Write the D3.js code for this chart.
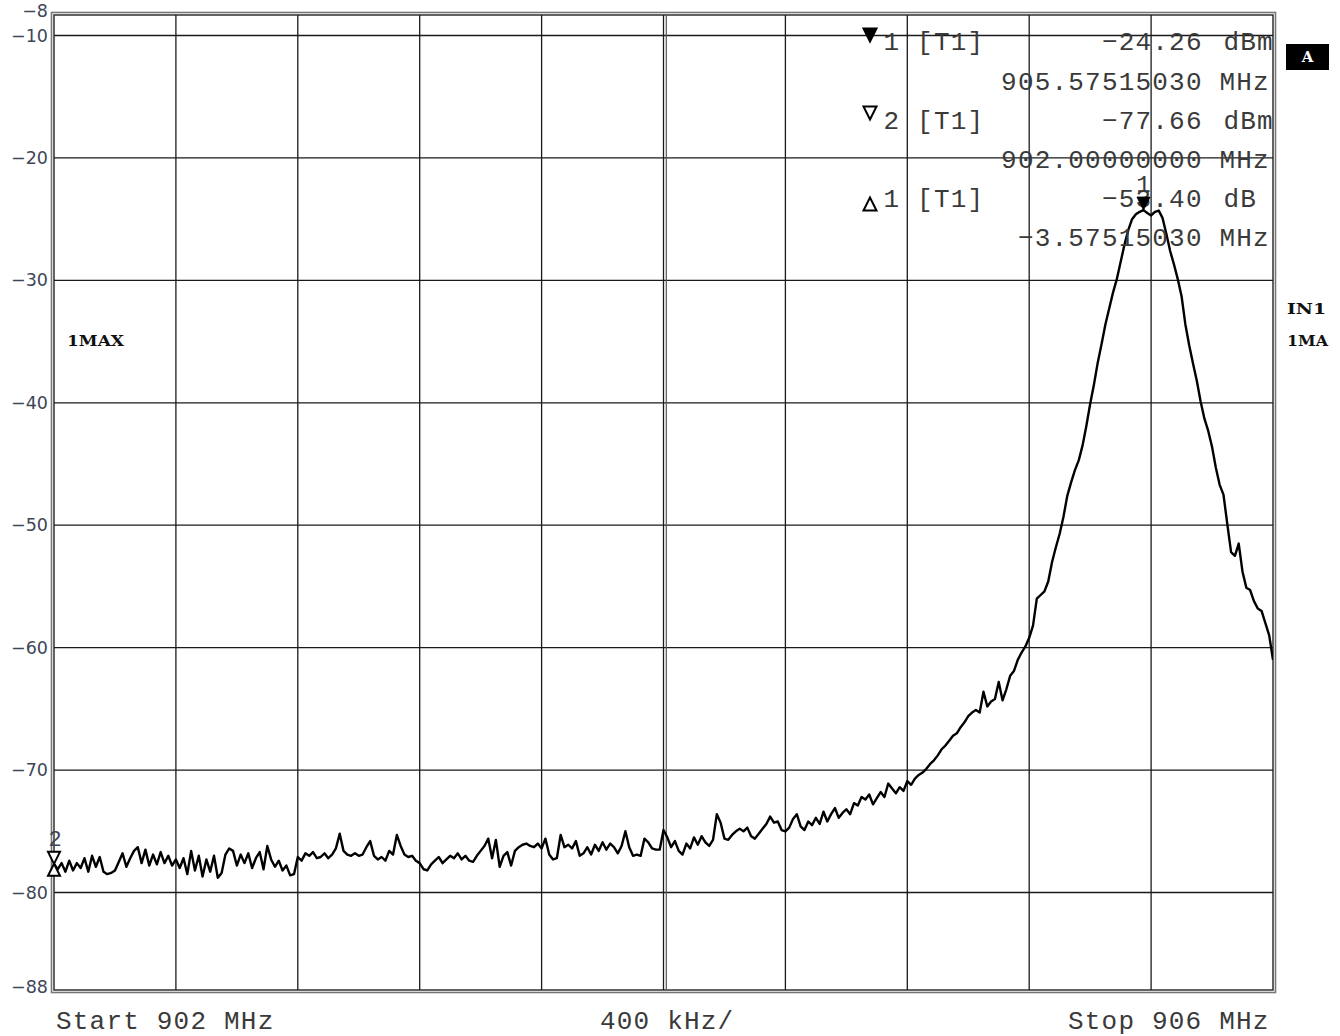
<!DOCTYPE html>
<html>
<head>
<meta charset="utf-8">
<script src="https://cdn.jsdelivr.net/npm/d3@7"></script>
<style>
  html, body { margin: 0; padding: 0; background: #fff; }
  svg { display: block; }
</style>
</head>
<body>
<svg id="chart" width="1340" height="1036"></svg>
<script>
// ---------- DATA ----------
const freqStart = 902;      // MHz
const freqStop = 906;       // MHz
const spanLabel = "400 kHz/";
const startLabel = "Start 902 MHz";
const stopLabel = "Stop 906 MHz";

const yTickValues = [-8, -10, -20, -30, -40, -50, -60, -70, -80, -88];
const yTickLabels = ["\u22128", "\u221210", "\u221220", "\u221230", "\u221240", "\u221250", "\u221260", "\u221270", "\u221280", "\u221288"];
const gridLevels = [-10, -20, -30, -40, -50, -60, -70, -80];
const gridFreqs = [902.4, 902.8, 903.2, 903.6, 904.0, 904.4, 904.8, 905.2, 905.6];

// trace 1 (max hold), 321 sweep points from 902 to 906 MHz, dBm
const levelDbm = [
  -77.66, -78.1, -77.6, -78.3, -77.4, -78.2, -77.6, -78.0, -77.2, -78.3,
  -77.0, -77.9, -77.1, -78.3, -78.5, -78.4, -78.2, -77.5, -76.8, -77.9,
  -77.2, -76.6, -76.3, -77.6, -76.5, -77.8, -76.9, -77.7, -76.7, -77.6,
  -77.0, -77.8, -77.3, -78.0, -77.2, -78.5, -76.6, -78.2, -77.0, -78.7,
  -77.3, -78.3, -77.0, -78.8, -78.4, -76.9, -76.4, -76.6, -77.8, -76.9,
  -77.6, -76.8, -78.0, -77.2, -76.7, -78.1, -76.2, -77.3, -77.9, -77.4,
  -78.2, -77.8, -78.6, -78.5, -77.1, -77.4, -76.8, -77.0, -76.7, -77.2,
  -77.1, -76.8, -77.2, -76.9, -76.4, -75.2, -76.6, -76.9, -77.0, -76.8,
  -77.0, -76.9, -76.3, -75.8, -77.0, -77.3, -77.1, -77.4, -76.6, -76.9,
  -75.3, -76.2, -76.9, -77.1, -77.0, -77.4, -77.6, -78.1, -78.2, -77.7,
  -77.4, -77.1, -77.6, -77.3, -77.0, -77.2, -76.8, -77.3, -77.0, -77.4,
  -77.5, -77.0, -76.6, -76.2, -75.6, -77.2, -75.7, -77.9, -77.0, -76.7,
  -77.8, -76.6, -76.3, -76.1, -76.0, -76.2, -76.3, -76.0, -76.4, -75.6,
  -76.9, -77.3, -77.2, -75.3, -76.3, -76.1, -76.4, -75.8, -77.0, -76.8,
  -76.3, -76.9, -76.1, -76.6, -75.9, -76.5, -76.0, -76.3, -76.8, -76.2,
  -75.0, -76.3, -77.0, -76.9, -77.0, -75.6, -75.9, -76.4, -76.5, -76.5,
  -74.9, -75.5, -76.3, -75.8, -76.6, -76.9, -76.0, -76.4, -75.5, -76.1,
  -75.4, -75.9, -76.2, -75.7, -73.6, -74.3, -75.6, -75.7, -75.3, -75.0,
  -74.8, -75.0, -74.7, -75.4, -75.6, -75.2, -74.8, -74.4, -73.8, -74.3,
  -74.2, -74.9, -75.0, -74.7, -74.0, -73.6, -74.6, -74.9, -74.2, -74.5,
  -73.9, -74.4, -73.4, -74.2, -73.6, -73.1, -73.9, -73.5, -73.2, -73.6,
  -72.7, -72.9, -72.2, -72.4, -72.0, -72.8, -72.3, -71.8, -72.2, -71.1,
  -71.5, -71.9, -71.4, -71.7, -70.9, -71.2, -70.7, -70.4, -70.2, -69.9,
  -69.5, -69.2, -68.8, -68.3, -68.0, -67.6, -67.2, -67.0, -66.5, -66.1,
  -65.6, -65.3, -65.1, -65.3, -63.6, -64.8, -64.4, -64.2, -62.8, -64.3,
  -63.4, -62.3, -61.9, -61.0, -60.4, -59.9, -59.2, -58.2, -56.0, -55.7,
  -55.4, -54.6, -53.0, -51.8, -50.7, -49.3, -47.6, -46.5, -45.5, -44.7,
  -43.5, -41.9, -40.1, -38.5, -36.7, -35.2, -33.6, -32.3, -31.0, -29.9,
  -28.5, -27.1, -25.9, -25.0, -24.6, -24.4, -24.26, -24.5, -24.7, -24.4,
  -24.3, -24.9, -26.2, -27.6, -28.7, -29.9, -31.3, -33.6, -35.3, -36.8,
  -38.2, -39.9, -41.3, -42.3, -43.6, -45.3, -46.7, -47.5, -49.9, -52.2,
  -52.5, -51.5, -53.8, -55.1, -55.3, -56.2, -56.8, -57.0, -58.0, -59.0,
  -61.0
];

// marker table
const markerSymbols = ["filledDown", "openDown", "openUp"];
const markerNumbers = ["1", "2", "1"];
const markerTraces = ["[T1]", "[T1]", "[T1]"];
const markerValues = ["\u221224.26", "\u221277.66", "\u221253.40"];
const markerValueUnits = ["dBm", "dBm", "dB"];
const markerFreqs = ["905.57515030", "902.00000000", "\u22123.57515030"];
const markerFreqUnits = ["MHz", "MHz", "MHz"];

// markers placed on the trace
const marker1Freq = 905.57515030, marker1Level = -24.26;
const marker2Freq = 902.0, marker2Level = -77.66;

// ---------- DRAW ----------
const svg = d3.select("#chart");
const L = 54, R = 1273, T = 15, B = 990;

const x = d3.scaleLinear().domain([freqStart, freqStop]).range([L, R]);
const y = d3.scaleLinear().domain([-10, -80]).range([35.5, 892.5]);
const freqs = levelDbm.map((d, i) => freqStart + (freqStop - freqStart) * i / (levelDbm.length - 1));

svg.append("defs").append("clipPath").attr("id", "plotclip")
  .append("rect").attr("x", L).attr("y", T).attr("width", R - L).attr("height", B - T);

// outer frame (grey) + inner frame (black)
svg.append("rect").attr("x", L - 2.5).attr("y", T - 2.5).attr("width", R - L + 5).attr("height", B - T + 5)
  .attr("fill", "none").attr("stroke", "#777").attr("stroke-width", 1.6);
svg.append("rect").attr("x", L).attr("y", T).attr("width", R - L).attr("height", B - T)
  .attr("fill", "none").attr("stroke", "#222").attr("stroke-width", 1.4);

// grid
const grid = svg.append("g");
grid.selectAll("line.h").data(gridLevels).join("line")
  .attr("x1", L).attr("x2", R).attr("y1", d => y(d)).attr("y2", d => y(d))
  .attr("stroke", "#1a1a1a").attr("stroke-width", 1.3);
grid.selectAll("line.v").data(gridFreqs).join("line")
  .attr("x1", d => x(d)).attr("x2", d => x(d)).attr("y1", T).attr("y2", B)
  .attr("stroke", "#1a1a1a").attr("stroke-width", 1.3);
// centre line drawn double
grid.append("line").attr("x1", x(904) + 2.8).attr("x2", x(904) + 2.8).attr("y1", T).attr("y2", B)
  .attr("stroke", "#555").attr("stroke-width", 1.2);

// y tick labels
svg.append("g").selectAll("text").data(yTickValues).join("text")
  .attr("x", 48).attr("y", (d, i) => y(d) + (i === 0 ? 0 : (i === yTickValues.length - 1 ? -3 : 0)))
  .attr("text-anchor", "end").attr("dominant-baseline", "central")
  .attr("font-family", "DejaVu Sans, sans-serif").attr("font-size", 17.5)
  .attr("fill", "#3d4656")
  .text((d, i) => yTickLabels[i]);

// bottom labels
const mono = "'Liberation Mono', 'Courier New', monospace";
const bottom = svg.append("g").attr("font-family", mono).attr("font-size", 26)
  .attr("letter-spacing", 1.2).attr("fill", "#3a3a3a");
bottom.append("text").attr("x", 56).attr("y", 1029).text(startLabel);
bottom.append("text").attr("x", 600).attr("y", 1029).text(spanLabel);
bottom.append("text").attr("x", 1068).attr("y", 1029).text(stopLabel);

// trace
const line = d3.line().x((d, i) => x(freqs[i])).y(d => y(d));
svg.append("path").datum(levelDbm).attr("clip-path", "url(#plotclip)")
  .attr("d", line).attr("fill", "none").attr("stroke", "#000")
  .attr("stroke-width", 2.4).attr("stroke-linejoin", "round");

// marker table text
const col = 16.8, col0 = 883.5;
const rowBase = [50, 89.5, 128.5, 167.5, 207, 246];
const table = svg.append("g").attr("clip-path", "url(#plotclip)")
  .attr("font-family", mono).attr("font-size", 26).attr("letter-spacing", 1.2).attr("fill", "#3a3a3a");
markerNumbers.forEach((num, k) => {
  const b1 = rowBase[2 * k], b2 = rowBase[2 * k + 1];
  table.append("text").attr("x", col0).attr("y", b1).text(num);
  table.append("text").attr("x", col0 + 2 * col).attr("y", b1).text(markerTraces[k]);
  table.append("text").attr("x", col0 + 13 * col).attr("y", b1).text(markerValues[k]);
  table.append("text").attr("x", col0 + 20 * col + 4).attr("y", b1).text(markerValueUnits[k]);
  const fs = markerFreqs[k];
  table.append("text").attr("x", col0 + (19 - fs.length) * col).attr("y", b2).text(fs);
  table.append("text").attr("x", col0 + 20 * col).attr("y", b2).text(markerFreqUnits[k]);
});

// marker symbols in the table
const symY = [35, 113, 204];
markerSymbols.forEach((s, k) => {
  const cx = 870, cy = symY[k], h = 6.5;
  let pts;
  if (s === "openUp") pts = [[cx - h, cy + h], [cx + h, cy + h], [cx, cy - h]];
  else pts = [[cx - h, cy - h], [cx + h, cy - h], [cx, cy + h]];
  svg.append("path").attr("d", "M" + pts.map(p => p.join(",")).join("L") + "Z")
    .attr("fill", s === "filledDown" ? "#000" : "#fff")
    .attr("stroke", "#000").attr("stroke-width", 2);
});

// marker 1 on the trace
{
  const mx = x(marker1Freq), my = y(marker1Level);
  svg.append("path").attr("d", `M${mx - 6.5},${my - 13}L${mx + 6.5},${my - 13}L${mx},${my}Z`)
    .attr("fill", "#000").attr("stroke", "#000").attr("stroke-width", 1);
  svg.append("text").attr("x", mx).attr("y", my - 18).attr("text-anchor", "middle")
    .attr("font-family", mono).attr("font-size", 24).attr("fill", "#3a3a3a").text("1");
}
// marker 2 / delta reference on the trace
{
  const mx = x(marker2Freq), my = y(marker2Level);
  svg.append("path").attr("d", `M${mx - 6},${my - 12}L${mx + 6},${my - 12}L${mx},${my}Z`)
    .attr("fill", "#fff").attr("stroke", "#000").attr("stroke-width", 2);
  svg.append("path").attr("d", `M${mx - 6},${my + 12}L${mx + 6},${my + 12}L${mx},${my}Z`)
    .attr("fill", "#fff").attr("stroke", "#000").attr("stroke-width", 2);
  svg.append("text").attr("x", mx + 1).attr("y", my - 18).attr("text-anchor", "middle")
    .attr("font-family", mono).attr("font-size", 22).attr("fill", "#3d4656").text("2");
}

// side annotations
const bold = svg.append("g").attr("font-family", "'DejaVu Serif', serif").attr("font-weight", "bold")
  .attr("font-size", 15).attr("fill", "#111");
bold.append("text").attr("x", 67).attr("y", 346).attr("textLength", 57).attr("lengthAdjust", "spacingAndGlyphs").text("1MAX");
bold.append("text").attr("x", 1287).attr("y", 314).attr("textLength", 39).attr("lengthAdjust", "spacingAndGlyphs").text("IN1");
bold.append("text").attr("x", 1287).attr("y", 346).attr("textLength", 41).attr("lengthAdjust", "spacingAndGlyphs").text("1MA");
svg.append("rect").attr("x", 1286).attr("y", 44).attr("width", 43).attr("height", 26).attr("fill", "#000");
svg.append("text").attr("x", 1307.5).attr("y", 62).attr("text-anchor", "middle")
  .attr("font-family", "'DejaVu Serif', serif").attr("font-weight", "bold").attr("font-size", 15)
  .attr("fill", "#fff").text("A");
</script>
</body>
</html>
